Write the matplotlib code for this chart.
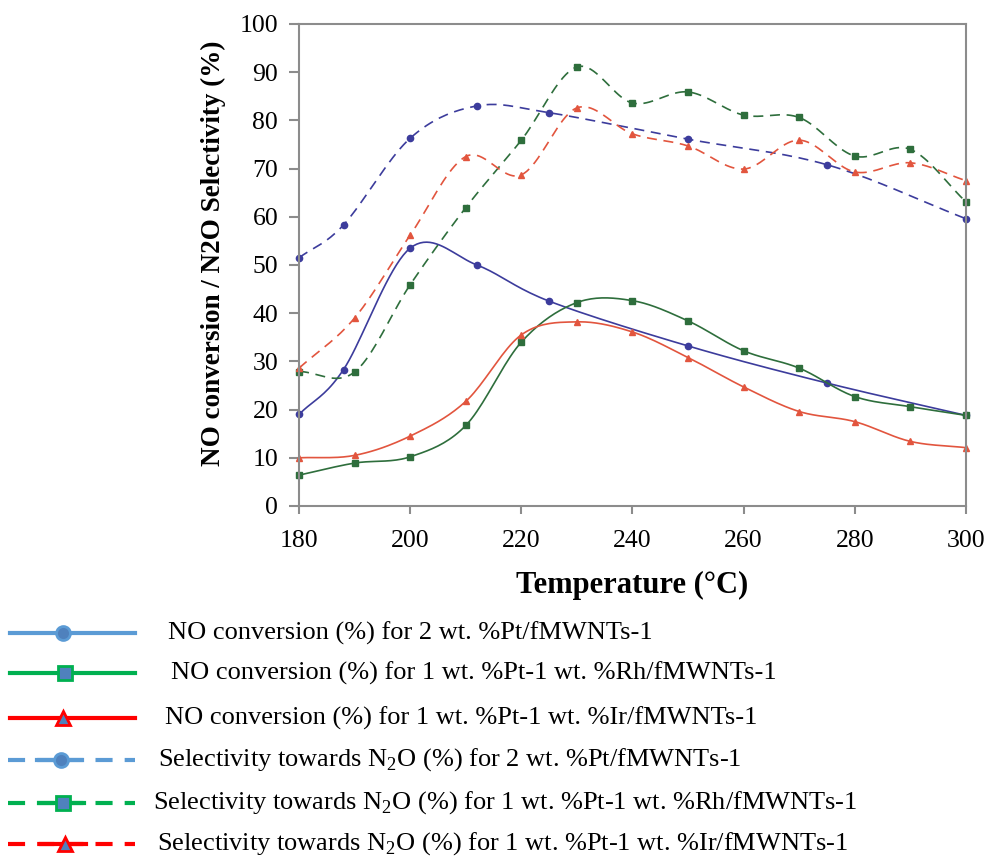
import numpy as np
import matplotlib
matplotlib.use("Agg")
from matplotlib import pyplot as plt
from matplotlib.lines import Line2D

plt.rcParams['font.family'] = ['Liberation Serif', 'DejaVu Serif']
plt.rcParams['mathtext.fontset'] = 'custom'
plt.rcParams['mathtext.rm'] = 'Liberation Serif'

# data
t_pt = [180, 188, 200, 212, 225, 250, 275, 300]
conv_pt = [19.0, 28.3, 53.5, 50.0, 42.5, 33.2, 25.5, 18.8]
sel_pt = [51.5, 58.3, 76.3, 83.0, 81.6, 76.1, 70.8, 59.6]

t_bi = [180, 190, 200, 210, 220, 230, 240, 250, 260, 270, 280, 290, 300]
conv_rh = [6.4, 8.9, 10.2, 16.7, 34.0, 42.2, 42.6, 38.4, 32.2, 28.6, 22.7, 20.6, 18.8]
conv_ir = [10.0, 10.5, 14.5, 21.7, 35.5, 38.2, 36.1, 30.8, 24.7, 19.6, 17.5, 13.4, 12.1]
sel_rh = [27.9, 27.8, 45.9, 61.9, 75.9, 91.1, 83.6, 85.9, 81.1, 80.6, 72.6, 74.0, 63.1]
sel_ir = [28.6, 39.0, 56.2, 72.5, 68.7, 82.6, 77.2, 74.7, 69.9, 75.9, 69.3, 71.2, 67.5]

legend_labels = [
    "NO conversion (%) for 2 wt. %Pt/fMWNTs-1",
    "NO conversion (%) for 1 wt. %Pt-1 wt. %Rh/fMWNTs-1",
    "NO conversion (%) for 1 wt. %Pt-1 wt. %Ir/fMWNTs-1",
    "Selectivity towards N$_2$O (%) for 2 wt. %Pt/fMWNTs-1",
    "Selectivity towards N$_2$O (%) for 1 wt. %Pt-1 wt. %Rh/fMWNTs-1",
    "Selectivity towards N$_2$O (%) for 1 wt. %Pt-1 wt. %Ir/fMWNTs-1",
]


def smooth(x, y, n=20):
    # catmull-rom curve through the points, like excel "smoothed line"
    x = np.asarray(x, float)
    y = np.asarray(y, float)
    px = np.concatenate([[2 * x[0] - x[1]], x, [2 * x[-1] - x[-2]]])
    py = np.concatenate([[2 * y[0] - y[1]], y, [2 * y[-1] - y[-2]]])
    xs, ys = [], []
    s = np.linspace(0, 1, n, endpoint=False)
    for i in range(1, len(px) - 2):
        for p, out in ((px, xs), (py, ys)):
            p0, p1, p2, p3 = p[i - 1], p[i], p[i + 1], p[i + 2]
            out.extend(0.5 * (2 * p1 + (-p0 + p2) * s + (2 * p0 - 5 * p1 + 4 * p2 - p3) * s ** 2
                              + (-p0 + 3 * p1 - 3 * p2 + p3) * s ** 3))
    xs.append(x[-1])
    ys.append(y[-1])
    return np.array(xs), np.array(ys)


fig = plt.figure(figsize=(9.85, 8.57), dpi=100)
ax = fig.add_axes([0.3036, 0.4096, 0.677, 0.5624])

blue = "#3c3c9c"
green = "#2e6e3c"
red = "#e2553e"

series = [
    (t_pt, conv_pt, blue, '-', 'o'),
    (t_bi, conv_rh, green, '-', 's'),
    (t_bi, conv_ir, red, '-', '^'),
    (t_pt, sel_pt, blue, (0, (6, 4)), 'o'),
    (t_bi, sel_rh, green, (0, (6, 4)), 's'),
    (t_bi, sel_ir, red, (0, (6, 4)), '^'),
]
for x, y, c, ls, m in series:
    sx, sy = smooth(x, y)
    ax.plot(sx, sy, color=c, lw=1.2, ls=ls, clip_on=False)
    ax.plot(x, y, ls='none', marker=m, ms=4.5, color=c, clip_on=False)

ax.set_xlim(180, 300)
ax.set_ylim(0, 100)
ax.set_xticks(range(180, 301, 20))
ax.set_yticks(range(0, 101, 10))
for sp in ax.spines.values():
    sp.set_color("#8c8c8c")
    sp.set_linewidth(1.5)
ax.tick_params(axis='both', colors="#8c8c8c", labelcolor='black', labelsize=18.5,
               length=6, width=1.5, direction='out')
ax.tick_params(axis='x', pad=11)
ax.tick_params(axis='y', length=7, pad=8)
ax.set_xlabel("Temperature (\u00b0C)", fontsize=22, fontweight='bold', labelpad=14)
ax.set_ylabel("NO conversion / N2O Selectivity (%)", fontsize=19.5, fontweight='bold')
ax.yaxis.set_label_coords(-0.109, 0.525)

# legend drawn below the chart
leg_colors = ["#5b9bd5", "#00b050", "#ff0000", "#5b9bd5", "#00b050", "#ff0000"]
leg_markers = ['o', 's', '^', 'o', 's', '^']
leg_y = [633, 673, 718, 760, 803, 844]
leg_mx = [63, 65, 63, 61, 63, 65]
leg_tx = [168, 171, 165, 158, 153, 157]
W, H = 985.0, 857.0
for i in range(6):
    yy = 1 - leg_y[i] / H
    if i < 3:
        fig.add_artist(Line2D([10 / W, 135 / W], [yy, yy], transform=fig.transFigure,
                              color=leg_colors[i], lw=3))
    else:
        fig.add_artist(Line2D([8 / W, 135 / W], [yy, yy], transform=fig.transFigure,
                              color=leg_colors[i], lw=3, ls=(0, (4.1, 2.9))))
        fig.add_artist(Line2D([(leg_mx[i] - 24) / W, (leg_mx[i] + 21) / W], [yy, yy],
                              transform=fig.transFigure, color=leg_colors[i], lw=3))
    fig.add_artist(Line2D([leg_mx[i] / W], [yy], transform=fig.transFigure, ls='none',
                          marker=leg_markers[i], ms=10, mfc="#4f81bd", mec=leg_colors[i], mew=2))
    fig.text(leg_tx[i] / W, yy, legend_labels[i], fontsize=19, va='center', ha='left')

fig.savefig("out.png", dpi=100)
